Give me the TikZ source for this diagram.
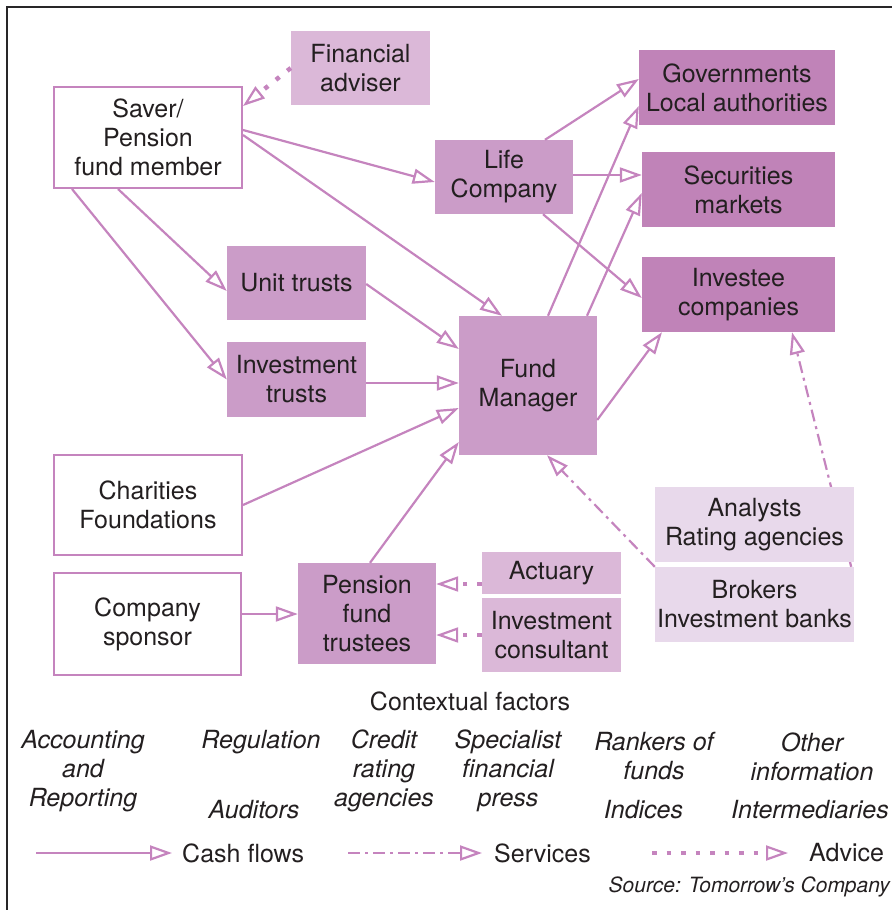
\documentclass[tikz,border=0pt]{standalone}
\usepackage{fontspec}
\setmainfont{TeX Gyre Heros}
\usetikzlibrary{arrows.meta,calc}
\pgfdeclarelayer{background}
\pgfsetlayers{background,main}
\definecolor{linepink}{RGB}{197,132,190}
\definecolor{midfill}{RGB}{203,156,200}
\definecolor{darkfill}{RGB}{192,131,184}
\definecolor{lightfill}{RGB}{219,184,216}
\definecolor{palefill}{RGB}{232,217,235}
\definecolor{ink}{RGB}{35,31,32}
\definecolor{framecol}{RGB}{40,38,40}
\begin{document}
\begin{tikzpicture}[x=1pt,y=-1pt,
  box/.style={rectangle, inner sep=0pt, align=center, text=ink,
    font=\fontsize{25}{29}\selectfont},
  whitebox/.style={box, draw=linepink, line width=2pt, fill=white},
  midbox/.style={box, fill=midfill},
  darkbox/.style={box, fill=darkfill},
  lightbox/.style={box, fill=lightfill},
  palebox/.style={box, fill=palefill},
  label/.style={inner sep=0pt, align=center, text=ink,
    font=\fontsize{25}{29}\selectfont},
  factor/.style={label, font=\fontsize{25}{29}\selectfont\itshape},
  tip/.style={-{Triangle[open,length=22pt,width=15pt,line width=2.2pt]}},
  cash/.style={draw=linepink, line width=2.2pt, tip},
  service/.style={draw=linepink, line width=2.2pt, tip,
    dash pattern=on 12pt off 5pt on 3pt off 5pt},
  advice/.style={draw=linepink, line width=4.5pt, line cap=butt, tip,
    dash pattern=on 4.5pt off 10pt}
]
\useasboundingbox (0,0) rectangle (892,910);

% frame
\draw[framecol, line width=2.5pt] (7,910) -- (7,7) -- (892,7);

% participants
\node[whitebox, minimum width=188pt, minimum height=101pt] (saver) at (148,137.5) {Saver/\\Pension\\fund member};
\node[lightbox, minimum width=139pt, minimum height=74pt] (adviser) at (360.5,68) {Financial\\adviser};
\node[midbox, minimum width=138pt, minimum height=74pt] (life) at (504,177) {Life\\Company};
\node[darkbox, minimum width=196pt, minimum height=75pt] (gov) at (737,87.5) {Governments\\Local authorities};
\node[darkbox, minimum width=193pt, minimum height=75pt] (sec) at (738.5,189.5) {Securities\\markets};
\node[darkbox, minimum width=193pt, minimum height=75pt] (inv) at (738.5,294.5) {Investee\\companies};
\node[midbox, minimum width=138pt, minimum height=139pt] (fm) at (528,385.5) {Fund\\Manager};
\node[midbox, minimum width=139pt, minimum height=74pt] (ut) at (296.5,283) {Unit trusts};
\node[midbox, minimum width=139pt, minimum height=75pt] (it) at (296.5,379.5) {Investment\\trusts};
\node[whitebox, minimum width=188pt, minimum height=100pt] (char) at (148,505) {Charities\\Foundations};
\node[whitebox, minimum width=187pt, minimum height=102pt] (spon) at (147.5,624) {Company\\sponsor};
\node[midbox, minimum width=138pt, minimum height=101pt] (ptr) at (367,613.5) {Pension\\fund\\trustees};
\node[lightbox, minimum width=139pt, minimum height=42pt] (act) at (551.5,573) {Actuary};
\node[lightbox, minimum width=139pt, minimum height=74pt] (icons) at (551.5,635) {Investment\\consultant};
\node[palebox, minimum width=199pt, minimum height=75pt] (ana) at (754.5,524.5) {Analysts\\Rating agencies};
\node[palebox, minimum width=199pt, minimum height=75pt] (brk) at (754.5,604.5) {Brokers\\Investment banks};

% cash flows
\draw[cash] ($(saver.east)+(0,-7.5)$) -- ($(life.west)+(0,5)$);
\draw[cash] ($(saver.east)+(0,-2.5)$) -- ($(fm.north)+(-26,0)$);
\draw[cash] ($(saver.south)+(-30,0)$) -- ($(ut.west)+(0,8)$);
\draw[cash] ($(saver.south)+(-76,0)$) -- (it.west);
\draw[cash] ($(ut.east)+(0,1)$) -- ($(fm.west)+(0,-36.5)$);
\draw[cash] ($(it.east)+(0,3.5)$) -- ($(fm.west)+(0,-2.5)$);
\draw[cash] (char.east) -- ($(fm.west)+(0,22.5)$);
\draw[cash] ($(ptr.north)+(3,0)$) -- ($(fm.west)+(0,56.5)$);
\draw[cash] ($(spon.east)+(0,-10)$) -- ($(ptr.west)+(0,0.5)$);
\draw[cash] ($(life.north)+(41,0)$) -- ($(gov.west)+(0,-8.5)$);
\draw[cash] ($(life.east)+(0,-2)$) -- ($(sec.west)+(0,-14.5)$);
\draw[cash] ($(life.south)+(39,0)$) -- ($(inv.west)+(0,3.5)$);
\draw[cash] ($(fm.north)+(20,0)$) -- ($(gov.west)+(0,18.5)$);
\draw[cash] ($(fm.north)+(59,0)$) -- ($(sec.west)+(0,3.5)$);
\draw[cash] ($(fm.east)+(0,34.5)$) -- ($(inv.south)+(-76.5,0)$);

% services
\begin{pgfonlayer}{background}
\draw[service] (brk.north west) -- ($(fm.south)+(19,0)$);
\draw[service] ($(brk.north east)+(-3,0)$) -- ($(inv.south)+(53.5,0)$);
\end{pgfonlayer}

% advice
\draw[advice] (adviser.west) -- ($(saver.north east)+(0,20)$);
\draw[advice] (act.west |- 0,584) -- (ptr.east |- 0,584);
\draw[advice] (icons.west) -- (ptr.east |- icons.west);

% contextual factors
\node[label] (ctx) at (470,701) {Contextual factors};
\node[factor] (acc) at (83,771) {Accounting\\and\\Reporting};
\node[factor] (reg) at (261,742) {Regulation};
\node[factor] (aud) at (254,810) {Auditors};
\node[factor] (cred) at (384,771) {Credit\\rating\\agencies};
\node[factor] (spec) at (508,771) {Specialist\\financial\\press};
\node[factor] (rank) at (654,756.5) {Rankers of\\funds};
\node[factor] (ind) at (643.5,810) {Indices};
\node[factor] (oth) at (812,756.5) {Other\\information};
\node[factor, anchor=east] (inter) at (889,810) {Intermediaries};

% legend
\coordinate (ca) at (36,853);
\coordinate (cb) at (172,853);
\draw[cash] (ca) -- (cb);
\node[label, anchor=west] (cashtxt) at (182,853) {Cash flows};
\coordinate (sa) at (348,853);
\coordinate (sb) at (482,853);
\draw[service] (sa) -- (sb);
\node[label, anchor=west] (servtxt) at (494,853) {Services};
\coordinate (aa) at (652,853);
\coordinate (ab) at (788,853);
\draw[advice] (aa) -- (ab);
\node[label, anchor=west] (advtxt) at (809,853) {Advice};

\node[label, anchor=east, font=\fontsize{21}{24}\selectfont\itshape] (src) at (890,887) {Source: Tomorrow’s Company};
\end{tikzpicture}
\end{document}
